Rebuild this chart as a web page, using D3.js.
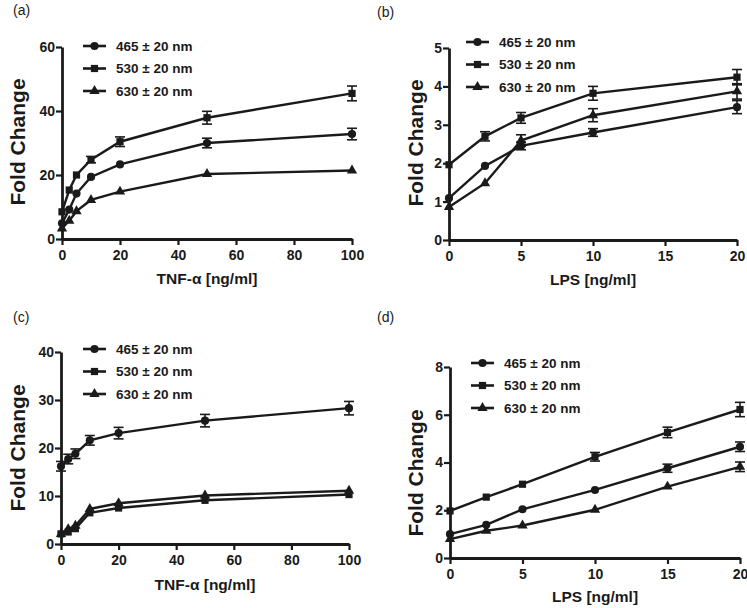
<!DOCTYPE html>
<html>
<head>
<meta charset="utf-8">
<script src="https://cdn.jsdelivr.net/npm/d3@7"></script>
<style>
body{margin:0;background:#fff;}
svg text{font-family:"Liberation Sans",Arial,sans-serif;fill:#1a1a1a;}
</style>
</head>
<body>
<div id="fig"></div>
<script>
// x doses
var tnfX = [0, 2.5, 5, 10, 20, 50, 100];
var lpsXb = [0, 2.5, 5, 10, 20];
var lpsXd = [0, 2.5, 5, 10, 15, 20];
var seriesNames = ["465 \u00b1 20 nm", "530 \u00b1 20 nm", "630 \u00b1 20 nm"];

// panel a: TNF
var a465 = [4.9, 9.2, 14.2, 19.4, 23.3, 30.0, 32.8];
var a530 = [8.5, 15.3, 20.0, 24.8, 30.4, 37.9, 45.5];
var a630 = [3.3, 5.7, 8.7, 12.2, 14.8, 20.3, 21.4];
var a465e = [0.5, 0.6, 0.7, 0.8, 0.8, 1.5, 1.8];
var a530e = [0.6, 0.8, 0.9, 1.0, 1.5, 2.0, 2.3];
var a630e = [0.3, 0.3, 0.4, 0.4, 0.4, 0.5, 0.5];

// panel b: LPS
var b465 = [1.09, 1.93, 2.45, 2.80, 3.46];
var b530 = [1.96, 2.70, 3.18, 3.82, 4.24];
var b630 = [0.86, 1.48, 2.59, 3.25, 3.87];
var b465e = [0.04, 0.05, 0.1, 0.1, 0.17];
var b530e = [0.05, 0.12, 0.14, 0.18, 0.2];
var b630e = [0.03, 0.04, 0.15, 0.17, 0.2];

// panel c: TNF
var c465 = [16.2, 17.7, 18.8, 21.6, 23.1, 25.7, 28.3];
var c530 = [2.1, 2.5, 3.2, 6.5, 7.5, 9.1, 10.3];
var c630 = [2.1, 3.1, 3.8, 7.3, 8.5, 10.1, 11.1];
var c465e = [1.0, 1.0, 1.0, 1.0, 1.2, 1.3, 1.4];
var c530e = [0.3, 0.3, 0.3, 0.4, 0.4, 0.4, 0.5];
var c630e = [0.2, 0.2, 0.3, 0.3, 0.3, 0.3, 0.4];

// panel d: LPS
var d465 = [1.0, 1.39, 2.04, 2.85, 3.76, 4.66];
var d530 = [1.97, 2.55, 3.09, 4.24, 5.26, 6.22];
var d630 = [0.79, 1.14, 1.36, 2.02, 2.99, 3.82];
var d465e = [0.05, 0.06, 0.06, 0.08, 0.17, 0.2];
var d530e = [0.05, 0.06, 0.08, 0.18, 0.22, 0.3];
var d630e = [0.04, 0.05, 0.05, 0.06, 0.08, 0.2];

var panels = [
  {tag:"(a)", x:tnfX, ys:[a465,a530,a630], es:[a465e,a530e,a630e], xmax:100, xticks:[0,20,40,60,80,100],
   ymax:60, yticks:[0,20,40,60], xt:"TNF-\u03b1 [ng/ml]",
   x0:62, x1:352, y0:239, y1:47, tagPos:[13,15], legX:83, legY:46, yTitle:[18,142], xTitleY:284},
  {tag:"(b)", x:lpsXb, ys:[b465,b530,b630], es:[b465e,b530e,b630e], xmax:20, xticks:[0,5,10,15,20],
   ymax:5, yticks:[0,1,2,3,4,5], xt:"LPS [ng/ml]",
   x0:449, x1:737, y0:240, y1:48, tagPos:[377,17], legX:466, legY:42, yTitle:[416,143], xTitleY:285},
  {tag:"(c)", x:tnfX, ys:[c465,c530,c630], es:[c465e,c530e,c630e], xmax:100, xticks:[0,20,40,60,80,100],
   ymax:40, yticks:[0,10,20,30,40], xt:"TNF-\u03b1 [ng/ml]",
   x0:61, x1:349, y0:544, y1:352, tagPos:[13,322], legX:83, legY:349, yTitle:[18,448], xTitleY:590},
  {tag:"(d)", x:lpsXd, ys:[d465,d530,d630], es:[d465e,d530e,d630e], xmax:20, xticks:[0,5,10,15,20],
   ymax:8, yticks:[0,2,4,6,8], xt:"LPS [ng/ml]",
   x0:450, x1:740, y0:558, y1:367, tagPos:[377,322], legX:471, legY:363, yTitle:[416,473], xTitleY:602}
];

var svg = d3.select("#fig").append("svg").attr("width", 747).attr("height", 608);
var ink = "#1a1a1a";
var shapes = [d3.symbolCircle, d3.symbolSquare, d3.symbolTriangle];
var sizes = [52, 52, 46];
var fmt = d3.format("d");

panels.forEach(function(p){
  var g = svg.append("g");
  var x = d3.scaleLinear().domain([0, p.xmax]).range([p.x0, p.x1]);
  var y = d3.scaleLinear().domain([0, p.ymax]).range([p.y0, p.y1]);

  g.append("text").attr("x", p.tagPos[0]).attr("y", p.tagPos[1])
    .style("font-size", "14px").text(p.tag);

  // axes
  var xa = g.append("g").attr("transform", "translate(0," + p.y0 + ")")
    .call(d3.axisBottom(x).tickValues(p.xticks).tickFormat(fmt).tickSize(6).tickPadding(5).tickSizeOuter(0));
  var ya = g.append("g").attr("transform", "translate(" + p.x0 + ",0)")
    .call(d3.axisLeft(y).tickValues(p.yticks).tickFormat(fmt).tickSize(6).tickPadding(1).tickSizeOuter(0));
  [xa, ya].forEach(function(a){
    a.select(".domain").attr("stroke", ink).attr("stroke-width", 2.8);
    a.selectAll(".tick line").attr("stroke", ink).attr("stroke-width", 2.2);
    a.selectAll(".tick text").style("font-size", "14px").style("font-weight", "bold")
      .style("font-family", "Liberation Sans,Arial,sans-serif").attr("fill", ink);
  });

  g.append("text").attr("transform", "translate(" + p.yTitle[0] + "," + p.yTitle[1] + ") rotate(-90)")
    .attr("text-anchor", "middle").attr("dy", "0.35em")
    .style("font-size", "21px").style("font-weight", "bold").text("Fold Change");
  g.append("text").attr("x", (p.x0 + p.x1) / 2).attr("y", p.xTitleY)
    .attr("text-anchor", "middle")
    .style("font-size", "15.5px").style("font-weight", "bold").text(p.xt);

  var line = d3.line().x(function(d){ return x(d[0]); }).y(function(d){ return y(d[1]); });

  p.ys.forEach(function(vals, si){
    var pts = p.x.map(function(xv, i){ return [xv, vals[i], p.es[si][i]]; });
    var sg = g.append("g");
    sg.append("path").attr("d", line(pts)).attr("fill", "none")
      .attr("stroke", ink).attr("stroke-width", 2.4);
    // error bars
    pts.forEach(function(d){
      var cx = x(d[0]), yt = y(d[1] + d[2]), yb = y(d[1] - d[2]);
      if (yb - yt < 6) return;
      sg.append("line").attr("x1", cx).attr("x2", cx).attr("y1", yt).attr("y2", yb)
        .attr("stroke", ink).attr("stroke-width", 1.6);
      [yt, yb].forEach(function(yy){
        sg.append("line").attr("x1", cx - 5).attr("x2", cx + 5).attr("y1", yy).attr("y2", yy)
          .attr("stroke", ink).attr("stroke-width", 1.6);
      });
    });
    sg.selectAll("path.m").data(pts).enter().append("path").attr("class", "m")
      .attr("transform", function(d){ return "translate(" + x(d[0]) + "," + y(d[1]) + ")"; })
      .attr("d", d3.symbol().type(shapes[si]).size(sizes[si]))
      .attr("fill", ink);
  });

  // legend
  seriesNames.forEach(function(name, si){
    var ly = p.legY + si * 22.5;
    g.append("line").attr("x1", p.legX).attr("x2", p.legX + 23).attr("y1", ly).attr("y2", ly)
      .attr("stroke", ink).attr("stroke-width", 2.6);
    g.append("path").attr("transform", "translate(" + (p.legX + 11.5) + "," + ly + ")")
      .attr("d", d3.symbol().type(shapes[si]).size(sizes[si])).attr("fill", ink);
    g.append("text").attr("x", p.legX + 33).attr("y", ly).attr("dy", "0.36em")
      .style("font-size", "13.5px").style("font-weight", "bold").text(name);
  });
});
</script>
</body>
</html>
